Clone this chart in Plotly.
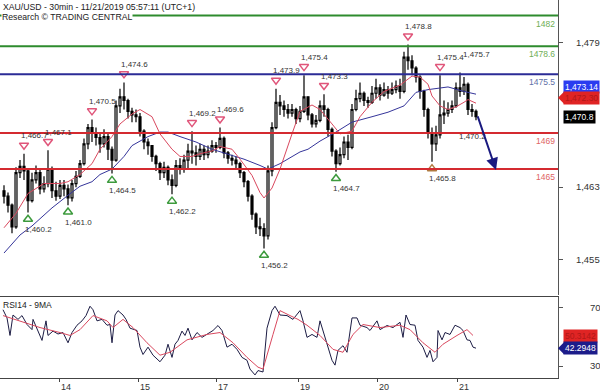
import plotly.graph_objects as go

# ---------------- data ----------------
first_open = 1462.6
close = [1462.0, 1461.0, 1458.6, 1464.6, 1465.3, 1464.8, 1461.5, 1463.8, 1464.6, 1462.8,
         1463.4, 1465.0, 1462.6, 1462.0, 1463.2, 1462.8, 1461.8, 1463.4, 1464.2, 1465.6,
         1467.8, 1469.6, 1469.0, 1468.5, 1467.8, 1468.6, 1467.2, 1466.0, 1472.0, 1473.0,
         1472.6, 1471.4, 1471.0, 1470.8, 1469.2, 1468.0, 1467.6, 1466.4, 1465.6, 1464.6,
         1465.2, 1463.8, 1463.2, 1465.4, 1465.0, 1466.0, 1467.0, 1466.8, 1466.4, 1467.2,
         1466.6, 1467.0, 1467.6, 1467.4, 1468.4, 1466.8, 1466.2, 1466.0, 1465.6, 1464.6,
         1463.6, 1462.0, 1460.0, 1458.6, 1458.4, 1457.6, 1464.8, 1469.6, 1472.4, 1472.0,
         1471.6, 1471.2, 1471.6, 1470.6, 1471.4, 1473.0, 1471.0, 1470.0, 1470.4, 1472.0,
         1471.6, 1469.4, 1467.0, 1465.6, 1466.6, 1468.0, 1467.4, 1471.6, 1472.8, 1473.4,
         1472.6, 1472.4, 1473.4, 1474.0, 1473.2, 1473.8, 1473.4, 1473.8, 1474.2, 1473.6,
         1477.4, 1477.0, 1476.2, 1475.2, 1473.6, 1471.6, 1469.0, 1467.8, 1468.8, 1471.0,
         1471.2, 1471.6, 1472.0, 1474.0, 1473.6, 1474.4, 1471.6, 1471.4, 1470.8]
high = [1463.2, 1462.4, 1461.2, 1465.2, 1466.0, 1466.7, 1465.0, 1464.6, 1465.4, 1464.9,
        1464.2, 1467.1, 1465.3, 1463.6, 1463.8, 1463.8, 1463.3, 1463.8, 1464.8, 1466.0,
        1468.4, 1470.0, 1470.5, 1469.6, 1469.0, 1469.4, 1469.0, 1467.5, 1472.6, 1473.9,
        1474.6, 1472.8, 1471.8, 1471.6, 1471.2, 1469.4, 1468.4, 1467.6, 1466.6, 1465.8,
        1465.8, 1465.4, 1464.4, 1466.0, 1466.2, 1466.6, 1467.8, 1469.2, 1467.6, 1467.8,
        1467.6, 1467.6, 1468.2, 1468.0, 1469.6, 1468.6, 1467.0, 1466.6, 1466.4, 1465.8,
        1464.8, 1463.8, 1462.2, 1460.2, 1459.6, 1459.0, 1465.4, 1470.2, 1473.9, 1473.2,
        1472.6, 1472.2, 1472.2, 1471.8, 1472.0, 1475.4, 1472.8, 1471.2, 1471.0, 1472.6,
        1473.3, 1471.8, 1469.6, 1467.2, 1467.4, 1468.6, 1468.8, 1472.2, 1473.8, 1474.6,
        1473.6, 1473.0, 1474.2, 1475.0, 1474.4, 1474.6, 1474.2, 1474.6, 1474.8, 1475.0,
        1478.0, 1478.8, 1477.6, 1476.4, 1475.4, 1473.8, 1471.8, 1469.6, 1469.8, 1475.4,
        1472.6, 1472.4, 1472.6, 1474.6, 1475.7, 1475.2, 1474.6, 1472.2, 1471.6]
low = [1461.2, 1460.2, 1457.9, 1458.4, 1464.0, 1463.8, 1460.2, 1461.3, 1463.4, 1462.2,
       1462.4, 1463.0, 1461.8, 1461.5, 1461.7, 1462.0, 1461.0, 1461.4, 1463.0, 1464.0,
       1465.4, 1467.2, 1468.0, 1467.6, 1466.8, 1467.4, 1466.0, 1464.5, 1465.8, 1471.2,
       1471.6, 1470.6, 1470.2, 1470.2, 1468.6, 1467.2, 1466.6, 1465.8, 1464.8, 1463.8,
       1464.0, 1463.2, 1462.2, 1463.0, 1464.4, 1464.6, 1465.0, 1465.6, 1465.4, 1466.0,
       1466.0, 1466.2, 1466.8, 1466.8, 1467.2, 1466.2, 1465.6, 1465.4, 1465.0, 1464.0,
       1463.0, 1461.4, 1459.4, 1457.8, 1457.6, 1456.2, 1457.2, 1464.2, 1469.4, 1471.0,
       1470.8, 1470.6, 1470.8, 1470.0, 1470.2, 1471.2, 1470.4, 1469.6, 1469.6, 1470.2,
       1470.8, 1468.6, 1466.4, 1464.7, 1465.4, 1466.2, 1466.0, 1467.2, 1471.4, 1472.4,
       1472.0, 1471.8, 1472.2, 1472.8, 1472.6, 1473.0, 1472.8, 1473.2, 1473.4, 1472.8,
       1473.4, 1476.0, 1475.4, 1474.6, 1472.8, 1470.8, 1468.4, 1465.8, 1467.0, 1468.4,
       1470.0, 1470.8, 1471.2, 1471.8, 1473.0, 1473.2, 1471.0, 1470.8, 1470.4]

# moving averages on price (bar position, value)
red_ma_x = [0, 3, 6, 10, 14, 16, 19, 22, 24, 27, 29, 32, 34, 37, 39, 42, 44, 47, 49, 52,
            54, 57, 59, 62, 64, 65, 67, 69, 72, 74, 77, 79, 82, 84, 87, 89, 92, 95, 99, 102,
            104, 106, 107, 109, 111, 113, 115, 116, 118]
red_ma = [1458.5, 1460.1, 1462.3, 1463.4, 1463.4, 1463.6, 1464.4, 1465.6, 1467.2, 1468.6,
          1470.0, 1471.1, 1471.6, 1470.8, 1468.9, 1467.2, 1466.4, 1466.4, 1466.7, 1467.0,
          1467.5, 1467.2, 1466.1, 1464.3, 1462.4, 1461.8, 1462.9, 1465.0, 1468.9, 1471.4,
          1472.1, 1471.6, 1470.0, 1468.9, 1469.2, 1470.8, 1472.4, 1473.6, 1474.3, 1475.3,
          1475.2, 1474.4, 1473.1, 1472.0, 1471.6, 1471.9, 1472.4, 1472.7, 1472.3]
blue_ma_x = [0, 4, 7, 12, 16, 19, 22, 24, 27, 30, 32, 36, 39, 41, 44, 48, 52, 57, 60, 64,
             66, 69, 71, 74, 76, 79, 83, 87, 92, 96, 100, 103, 106, 111, 115, 118]
blue_ma = [1455.7, 1457.7, 1458.7, 1460.7, 1462.1, 1463.1, 1463.6, 1464.4, 1465.0, 1466.4,
           1467.6, 1468.6, 1469.1, 1469.1, 1468.6, 1468.0, 1467.2, 1466.5, 1466.1, 1465.4,
           1465.0, 1465.6, 1466.1, 1466.9, 1467.2, 1468.1, 1469.1, 1470.2, 1470.8, 1471.3,
           1472.0, 1473.5, 1473.8, 1474.1, 1473.6, 1473.3]

# RSI(14) and its 9-period MA (bar position, value)
rsi_x = [-0.25, 0.75, 1.5, 2.25, 3.5, 4.5, 5.75, 7, 7.25, 8.25, 9.5, 10.5, 11, 12.25, 13.5,
         14.75, 16, 17, 18.25, 19.5, 20.5, 21.5, 22.25, 23.25, 24.5, 25.75, 26.5, 27, 27.75,
         28.5, 29.75, 30.5, 31.5, 33.25, 34, 34.75, 36, 37.25, 39, 40.25, 41, 42, 42.75, 43.5,
         44.5, 45.25, 46, 47, 48.25, 49.5, 50.75, 52.25, 53.5, 54.5, 55.75, 57, 58.25, 59.5,
         60.75, 61.5, 62.75, 63.5, 64.75, 65.75, 67, 67.75, 69, 70.75, 72.25, 73.5, 74, 74.75,
         75.75, 77, 78.25, 79, 79.75, 80.75, 82, 82.75, 83.5, 84.75, 85.75, 87, 88.25, 89,
         90.75, 91.5, 93.25, 94, 95.75, 97.25, 99, 99.75, 100.5, 101.5, 102.75, 103.5, 104.75,
         105.75, 106.5, 107.25, 108.25, 108.5, 109.5, 110.25, 111.5, 112.75, 114, 114.75,
         115.75, 116.5, 117.25, 118]
rsi = [68.6, 63, 51, 65, 62, 64.6, 58.5, 55, 62, 55, 47.6, 61, 51, 54, 52,
       53, 46, 53, 58, 61, 64.6, 71, 68.6, 61, 62, 58, 58.5, 46, 65,
       68, 65, 62, 56, 54.4, 43, 38, 43, 37.5, 33, 37.5, 45, 36, 45, 47.6,
       54, 51, 56, 48, 53, 49.7, 51.7, 54.4, 57.8, 54.4, 43, 45, 41.5, 36,
       34, 28, 24, 27, 26, 56, 68, 71, 65, 64.6, 62, 66.6, 68, 61,
       49.7, 51.7, 49.7, 61, 54.4, 45, 34, 30.7, 40.8, 44, 39.5, 63, 63, 58,
       56.4, 54.4, 61, 55, 57.8, 56.4, 60, 49.7, 65, 58.5, 58, 47.6, 43,
       36, 40.8, 33, 36, 54.4, 48, 53, 51.7, 58, 56.4, 54.4,
       48, 47.6, 43, 42.3]
rsi_ma_x = [-0.25, 4, 9, 14, 16.5, 19, 22.25, 25.75, 27.25, 29.75, 32.25, 35.75, 39, 41.5,
            45.75, 50.75, 54, 57.25, 60.75, 63.5, 64.75, 67.25, 69, 71.5, 73.5, 75.75, 79,
            82.25, 84.75, 87.25, 89.75, 94, 99, 101.5, 104.75, 107.75, 109.75, 113.25,
            115.75, 117.25]
rsi_ma = [64.6, 61, 56.4, 53, 51, 55, 64.6, 61, 56.4, 62, 56.4, 46, 37.5, 39.5,
          48, 51.7, 53, 46, 36, 29.3, 28, 51.7, 68, 64.6, 62, 58, 51,
          41.5, 39.5, 51.7, 58.5, 56.4, 58, 55, 46, 39.5, 45, 51,
          55, 51]

# swing highs / lows (bar position, price)
peak_x = [5, 11, 22, 30, 47, 54, 68, 75, 80, 101, 109]
peak_v = [1466.7, 1467.1, 1470.5, 1474.6, 1469.2, 1469.6, 1473.9, 1475.4, 1473.3, 1478.8, 1475.4]
trough_x = [6, 16, 27, 42, 65, 83, 107]
trough_v = [1460.2, 1461.0, 1464.5, 1462.2, 1456.2, 1464.7, 1465.8]
extra_peak_x, extra_peak_v = 114, 1475.7

# support / resistance levels
levels = [1482, 1478.6, 1475.5, 1469, 1465]
level_names = ["1482", "1478.6", "1475.5", "1469", "1465"]

# day labels (bar position of session start)
day_pos = [13.75, 33.5, 53, 73.5, 93.25, 113.25]
day_txt = ["14", "15", "17", "19", "20", "21"]

price_ticks = [1479, 1463, 1455]
rsi_ticks = [70, 30]

last_price = 1470.8
blue_badge = 1473.14
red_badge = 1472.30
rsi_last = 42.2948
rsi_ma_last = 50.3142

arrow_from = (118.3, 1471.0)
arrow_to = (123.0, 1464.9)

# ---------------- figure ----------------
FONT = "Liberation Sans, Arial, sans-serif"
bars = list(range(len(close)))
opn = [first_open] + close[:-1]
hi = [max(h, o, c) for h, o, c in zip(high, opn, close)]
lo = [min(l, o, c) for l, o, c in zip(low, opn, close)]

fig = go.Figure()
fig.add_trace(go.Candlestick(
    x=bars, open=opn, high=hi, low=lo, close=close, xaxis="x", yaxis="y",
    increasing=dict(line=dict(color="#000000", width=1.2), fillcolor="#ffffff"),
    decreasing=dict(line=dict(color="#000000", width=1.2), fillcolor="#000000"),
    whiskerwidth=0, hoverinfo="skip"))
fig.add_trace(go.Scatter(x=blue_ma_x, y=blue_ma, mode="lines", xaxis="x", yaxis="y",
                         line=dict(color="#35359a", width=1), hoverinfo="skip"))
fig.add_trace(go.Scatter(x=red_ma_x, y=red_ma, mode="lines", xaxis="x", yaxis="y",
                         line=dict(color="#d9485e", width=1), hoverinfo="skip"))

# triangles
fig.add_trace(go.Scatter(x=peak_x, y=[v + 0.95 for v in peak_v], mode="markers", xaxis="x", yaxis="y",
                         marker=dict(symbol="triangle-down-open", size=8, color="#e0557a",
                                     line=dict(width=1.5, color="#e0557a")), hoverinfo="skip"))
t_colors = ["#3c9a3c"] * (len(trough_x) - 1) + ["#b07a40"]
fig.add_trace(go.Scatter(x=trough_x, y=[v - 0.75 for v in trough_v], mode="markers", xaxis="x", yaxis="y",
                         marker=dict(symbol="triangle-up-open", size=8, color=t_colors,
                                     line=dict(width=1.5, color=t_colors)), hoverinfo="skip"))

# RSI panel
fig.add_trace(go.Scatter(x=rsi_x, y=rsi, mode="lines", xaxis="x2", yaxis="y2",
                         line=dict(color="#1c1c44", width=1), hoverinfo="skip"))
fig.add_trace(go.Scatter(x=rsi_ma_x, y=rsi_ma, mode="lines", xaxis="x2", yaxis="y2",
                         line=dict(color="#d9485e", width=1), hoverinfo="skip"))

shapes = []
level_colors = ["#2e8b2e", "#2e8b2e", "#2b2b96", "#d42a30", "#d42a30"]
label_colors = ["#6fae55", "#6fae55", "#5f6fa8", "#e06464", "#e06464"]
for lv, col in zip(levels, level_colors):
    shapes.append(dict(type="line", xref="x domain", yref="y", x0=0, x1=1, y0=lv, y1=lv,
                       line=dict(color=col, width=2)))

annotations = []
for lv, name, col in zip(levels, level_names, label_colors):
    annotations.append(dict(xref="x domain", yref="y", x=1, y=lv, xanchor="right", yanchor="top",
                            xshift=-1, yshift=-1, text=name, showarrow=False,
                            font=dict(family=FONT, size=8.5, color=col)))

for x, v in zip(peak_x, peak_v):
    annotations.append(dict(xref="x", yref="y", x=x, y=v, xanchor="left", yanchor="middle",
                            xshift=-5, yshift=18, text=f"{v:,.1f}", showarrow=False,
                            font=dict(family=FONT, size=8, color="#333333")))
annotations.append(dict(xref="x", yref="y", x=extra_peak_x, y=extra_peak_v, xanchor="left",
                        yanchor="middle", xshift=1, yshift=18, text=f"{extra_peak_v:,.1f}",
                        showarrow=False, font=dict(family=FONT, size=8, color="#333333")))
for x, v in zip(trough_x, trough_v):
    annotations.append(dict(xref="x", yref="y", x=x, y=v, xanchor="left", yanchor="middle",
                            xshift=-5, yshift=-17, text=f"{v:,.1f}", showarrow=False,
                            font=dict(family=FONT, size=8, color="#333333")))
annotations.append(dict(xref="x", yref="y", x=117, y=1468.6, xanchor="center", yanchor="middle",
                        text="1,470.2", showarrow=False, font=dict(family=FONT, size=8, color="#333333")))

# forecast arrow
annotations.append(dict(xref="x", yref="y", axref="x", ayref="y", x=arrow_to[0], y=arrow_to[1],
                        ax=arrow_from[0], ay=arrow_from[1], text="", showarrow=True,
                        arrowhead=2, arrowsize=1.2, arrowwidth=2, arrowcolor="#1a1a80"))

# header
annotations.append(dict(xref="paper", yref="paper", x=0, y=1, xanchor="left", yanchor="top",
                        xshift=1, yshift=0, showarrow=False,
                        text="XAU/USD - 30min - 11/21/2019 05:57:11 (UTC+1)",
                        font=dict(family=FONT, size=8.7, color="#222222")))
annotations.append(dict(xref="paper", yref="paper", x=0, y=1, xanchor="left", yanchor="top",
                        xshift=1, yshift=-11, showarrow=False, bgcolor="#ffffff", borderpad=0,
                        text="Research © TRADING CENTRAL",
                        font=dict(family=FONT, size=8.7, color="#222222")))
annotations.append(dict(xref="x2 domain", yref="y2 domain", x=0, y=1, xanchor="left", yanchor="top",
                        xshift=1, yshift=-1, showarrow=False, text="RSI14 - 9MA",
                        font=dict(family=FONT, size=8.5, color="#222222")))

# price badges
BX = 563 / 558
def badge(val, yref, text, bg, fg, yshift=0):
    annotations.append(dict(xref="paper", yref=yref, x=BX, y=val, xanchor="left", yanchor="middle",
                            yshift=yshift, text=text, showarrow=False, bgcolor=bg, borderpad=1,
                            font=dict(family=FONT, size=8.5, color=fg)))

badge(blue_badge, "y", f"{blue_badge:,.2f}", "#2a3cf0", "#ffffff", 8.5)
badge(red_badge, "y", f"{red_badge:,.2f}", "#e02424", "#b01818", 5.5)
badge(last_price, "y", f"{last_price:,.1f}", "#000000", "#ffffff", 0)
badge(rsi_ma_last, "y2", f"{rsi_ma_last:.4f}", "#e02424", "#b01818", 0)
badge(rsi_last, "y2", f"{rsi_last:.4f}", "#1c1c8a", "#ffffff", 0)

shapes.append(dict(type="path", xref="paper", yref="y", xsizemode="pixel", ysizemode="pixel",
                   xanchor=1.0, yanchor=red_badge + 5.5 / 9.1, path="M0,0 L6,6 L6,-6 Z",
                   fillcolor="#e02424", line=dict(width=0)))
shapes.append(dict(type="path", xref="paper", yref="y2", xsizemode="pixel", ysizemode="pixel",
                   xanchor=1.0, yanchor=rsi_last, path="M0,0 L6,6 L6,-6 Z",
                   fillcolor="#1c1c8a", line=dict(width=0)))

XR = [-1, 138.5]
fig.update_layout(
    width=600, height=392, margin=dict(l=0, r=42, t=0, b=11),
    paper_bgcolor="#ffffff", plot_bgcolor="#ffffff", showlegend=False,
    font=dict(family=FONT, size=9.5, color="#333333"),
    xaxis=dict(domain=[0, 1], range=XR, anchor="y", showticklabels=False, showgrid=False,
               zeroline=False, ticks="", rangeslider=dict(visible=False), showline=False),
    yaxis=dict(domain=[0.22, 1], range=[1451.07, 1483.73], side="right", anchor="x",
               tickvals=price_ticks, ticktext=[f"{t:,}" for t in price_ticks],
               ticks="outside", ticklen=4, tickcolor="#555555", showgrid=False, zeroline=False,
               showline=True, linecolor="#555555", linewidth=1, ticklabelstandoff=11,
               tickfont=dict(family=FONT, size=9.5, color="#333333")),
    xaxis2=dict(domain=[0, 1], range=XR, anchor="y2", tickvals=day_pos, ticktext=day_txt,
                ticks="outside", ticklen=3, tickcolor="#444444", showgrid=False, zeroline=False,
                showline=True, mirror=True, linecolor="#444444", linewidth=1,
                ticklabelshift=7, ticklabelstandoff=-3,
                tickfont=dict(family=FONT, size=9, color="#333333")),
    yaxis2=dict(domain=[0, 0.215], range=[21.9, 77.5], side="right", anchor="x2",
                tickvals=rsi_ticks, ticks="outside", ticklen=4, tickcolor="#555555",
                showgrid=False, zeroline=False, showline=True, linecolor="#555555",
                linewidth=1, ticklabelstandoff=25,
                tickfont=dict(family=FONT, size=9.5, color="#333333")),
    shapes=shapes, annotations=annotations,
)

fig.write_html("out.html")
